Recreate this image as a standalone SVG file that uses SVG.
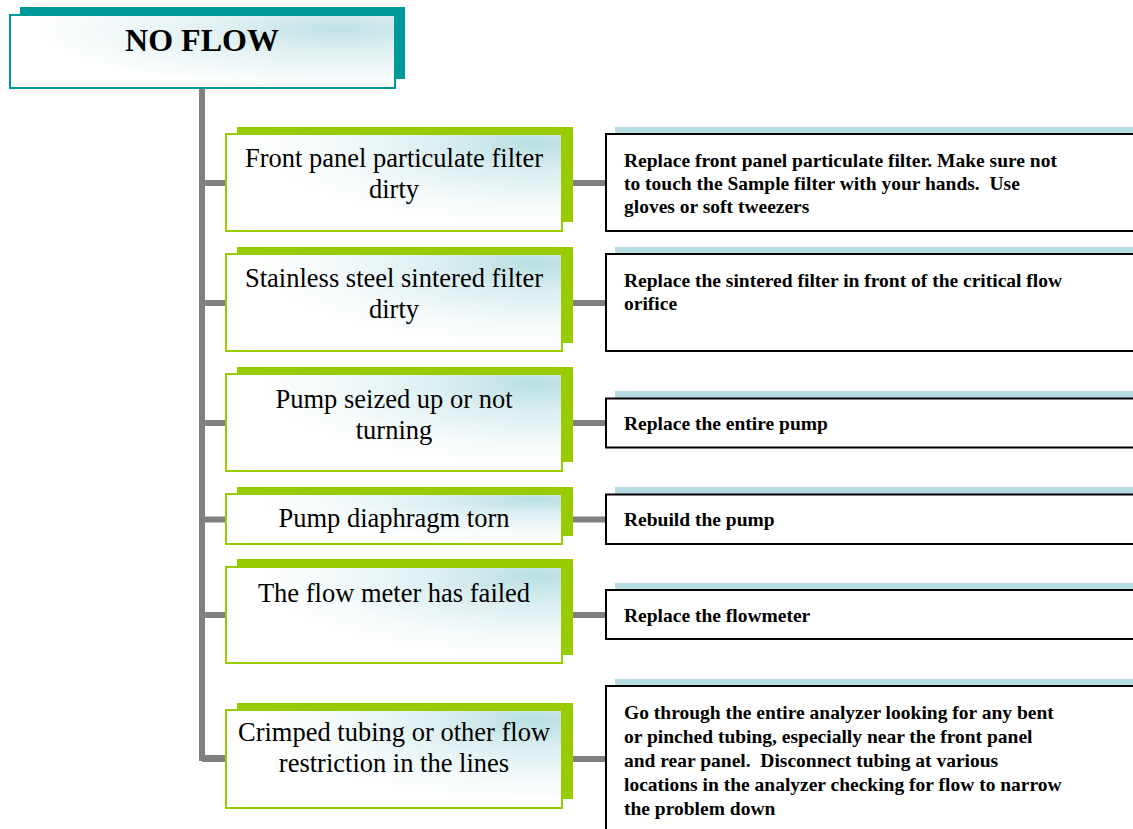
<svg xmlns="http://www.w3.org/2000/svg" width="1133" height="829" viewBox="0 0 1133 829">
<defs>
<radialGradient id="gcause" cx="0.92" cy="0.1" r="0.85" fx="0.92" fy="0.1">
<stop offset="0" stop-color="#BADFE2"/>
<stop offset="0.35" stop-color="#DCEFF1"/>
<stop offset="0.75" stop-color="#F7FBFB"/>
<stop offset="1" stop-color="#FFFFFF"/>
</radialGradient>
<radialGradient id="gtitle" cx="0.85" cy="0.2" r="0.8" fx="0.85" fy="0.2">
<stop offset="0" stop-color="#BFE1E4"/>
<stop offset="0.4" stop-color="#E2F1F2"/>
<stop offset="1" stop-color="#FFFFFF"/>
</radialGradient>
</defs>
<style>
.conn{stroke:#808080;stroke-width:6;fill:none}
.cshadow{fill:#99CC00}
.cbox{fill:url(#gcause);stroke:#99CC00;stroke-width:2}
.rshadow{fill:#B7DEE2}
.rbox{fill:#FFFFFF;stroke:#000000;stroke-width:2}
.ct{font-family:"Liberation Serif","Times New Roman",serif;font-size:26.5px;fill:#000;text-anchor:middle}
.rt{font-family:"Liberation Serif","Times New Roman",serif;font-size:19.5px;font-weight:bold;fill:#000;white-space:pre}
.tt{font-family:"Liberation Serif","Times New Roman",serif;font-size:32px;font-weight:bold;fill:#000;text-anchor:middle}
</style>
<rect width="1133" height="829" fill="#FFFFFF"/>
<g id="connectors">
<path class="conn" d="M202 88 V758 H226"/>
<path class="conn" d="M202 183 H610"/>
<path class="conn" d="M202 303 H610"/>
<path class="conn" d="M202 423 H610"/>
<path class="conn" d="M202 519.5 H610"/>
<path class="conn" d="M202 615 H610"/>
<path class="conn" d="M202 759 H610"/>
</g>
<g id="title">
<rect x="20" y="7" width="385" height="72" fill="#009999"/>
<rect x="10" y="15" width="385" height="73" fill="url(#gtitle)" stroke="#009999" stroke-width="2"/>
<text class="tt" x="202" y="51">NO FLOW</text>
</g>
<g id="cause1">
<rect class="cshadow" x="237" y="127" width="336" height="95"/>
<rect class="cbox" x="226" y="134" width="336" height="97"/>
<text class="ct" x="394" y="166.5">Front panel particulate filter</text>
<text class="ct" x="394" y="197.5">dirty</text>
</g>
<g id="cause2">
<rect class="cshadow" x="237" y="247" width="336" height="96"/>
<rect class="cbox" x="226" y="254" width="336" height="97"/>
<text class="ct" x="394" y="286.5">Stainless steel sintered filter</text>
<text class="ct" x="394" y="317.5">dirty</text>
</g>
<g id="cause3">
<rect class="cshadow" x="237" y="367" width="336" height="95"/>
<rect class="cbox" x="226" y="374" width="336" height="97"/>
<text class="ct" x="394" y="408">Pump seized up or not</text>
<text class="ct" x="394" y="439">turning</text>
</g>
<g id="cause4">
<rect class="cshadow" x="237" y="487" width="336" height="49"/>
<rect class="cbox" x="226" y="494" width="336" height="50"/>
<text class="ct" x="394" y="527">Pump diaphragm torn</text>
</g>
<g id="cause5">
<rect class="cshadow" x="237" y="559" width="336" height="96"/>
<rect class="cbox" x="226" y="567" width="336" height="96"/>
<text class="ct" x="394" y="602">The flow meter has failed</text>
</g>
<g id="cause6">
<rect class="cshadow" x="237" y="703" width="336" height="96"/>
<rect class="cbox" x="226" y="710" width="336" height="98"/>
<text class="ct" x="394" y="741">Crimped tubing or other flow</text>
<text class="ct" x="394" y="771.5">restriction in the lines</text>
</g>
<g id="result1">
<rect class="rshadow" x="615" y="127" width="530" height="10"/>
<rect class="rbox" x="606" y="134" width="540" height="97"/>
<text class="rt" x="624" y="166.5">Replace front panel particulate filter. Make sure not</text>
<text class="rt" x="624" y="189.5">to touch the Sample filter with your hands.  Use</text>
<text class="rt" x="624" y="212.5">gloves or soft tweezers</text>
</g>
<g id="result2">
<rect class="rshadow" x="615" y="247" width="530" height="10"/>
<rect class="rbox" x="606" y="254" width="540" height="97"/>
<text class="rt" x="624" y="286.5">Replace the sintered filter in front of the critical flow</text>
<text class="rt" x="624" y="310">orifice</text>
</g>
<g id="result3">
<rect class="rshadow" x="615" y="391" width="530" height="10"/>
<rect class="rbox" x="606" y="398.5" width="540" height="49"/>
<text class="rt" x="624" y="430">Replace the entire pump</text>
</g>
<g id="result4">
<rect class="rshadow" x="615" y="487" width="530" height="10"/>
<rect class="rbox" x="606" y="494.5" width="540" height="49.5"/>
<text class="rt" x="624" y="526">Rebuild the pump</text>
</g>
<g id="result5">
<rect class="rshadow" x="615" y="583" width="530" height="10"/>
<rect class="rbox" x="606" y="590" width="540" height="49"/>
<text class="rt" x="624" y="622">Replace the flowmeter</text>
</g>
<g id="result6">
<rect class="rshadow" x="615" y="679" width="530" height="10"/>
<rect class="rbox" x="606" y="686" width="540" height="160"/>
<text class="rt" x="624" y="718.5">Go through the entire analyzer looking for any bent</text>
<text class="rt" x="624" y="742.5">or pinched tubing, especially near the front panel</text>
<text class="rt" x="624" y="766.5">and rear panel.  Disconnect tubing at various</text>
<text class="rt" x="624" y="790.5">locations in the analyzer checking for flow to narrow</text>
<text class="rt" x="624" y="814.5">the problem down</text>
</g>
</svg>
